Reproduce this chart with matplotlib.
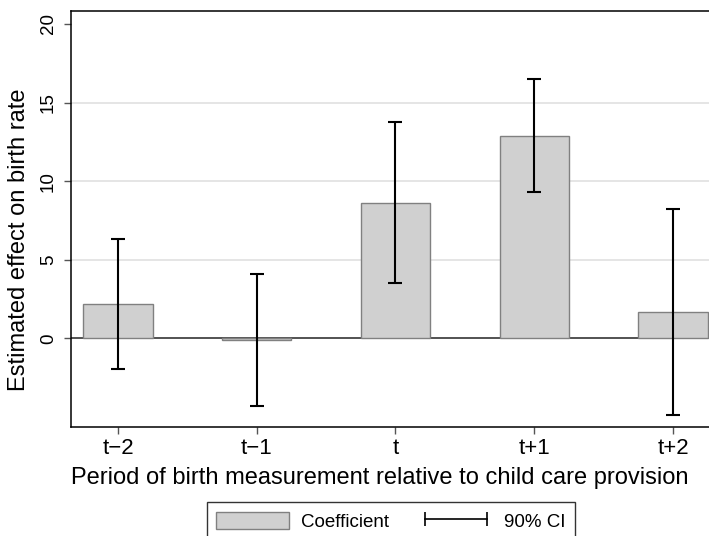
import numpy as np
import matplotlib
matplotlib.use("Agg")
import matplotlib.pyplot as plt
from matplotlib.patches import Patch
from matplotlib.lines import Line2D

plt.rcParams['font.family'] = ['Liberation Sans', 'DejaVu Sans']

# data
periods = ['t\u22122', 't\u22121', 't', 't+1', 't+2']
coef = [2.2, -0.1, 8.6, 12.9, 1.65]
ci_low = [-1.97, -4.3, 3.5, 9.3, -4.88]
ci_high = [6.3, 4.1, 13.75, 16.5, 8.2]
yticks = [0, 5, 10, 15, 20]

fig = plt.figure(figsize=(7.09, 5.36), dpi=100)
ax = fig.add_axes([71 / 709, 1 - 426.7 / 536, (720 - 71) / 709, (426.7 - 11) / 536])

x = np.arange(len(periods))
coef = np.array(coef)
yerr = np.vstack([coef - np.array(ci_low), np.array(ci_high) - coef])

for yv in [5, 10, 15]:
    ax.axhline(yv, color='#e0e0e0', lw=1.2, zorder=0)
ax.axhline(0, color='#444444', lw=1.3, zorder=1)

ax.bar(x, coef, width=0.5, color='#d0d0d0', edgecolor='#808080', lw=1.0, zorder=2)
ax.errorbar(x, coef, yerr=yerr, fmt='none', ecolor='black', elinewidth=1.5,
            capsize=5, capthick=1.5, zorder=3)

ax.set_xlim(-0.339, 4.339)
ax.set_ylim(-5.62, 20.82)
ax.set_xticks(x)
ax.set_xticklabels(periods, fontsize=16)
ax.set_yticks(yticks)
ax.set_yticklabels([str(v) for v in yticks], fontsize=13.5, rotation=90, va='center')
ax.tick_params(axis='both', length=5, width=1, color='#555555', direction='out')
ax.tick_params(axis='y', pad=5)
ax.tick_params(axis='x', pad=3)
for s in ax.spines.values():
    s.set_color('black')
    s.set_linewidth(1.1)
ax.spines['right'].set_visible(False)

ax.set_xlabel('Period of birth measurement relative to child care provision', fontsize=17)
ax.set_ylabel('Estimated effect on birth rate', fontsize=17)
ax.xaxis.set_label_coords((380 - 71) / (720 - 71), -(478 - 426.7) / 415.7)
ax.xaxis.label.set_va('center')
ax.yaxis.set_label_coords(-(71 - 19) / 649, (426.7 - 240) / 415.7)
ax.yaxis.label.set_va('center')

handles = [Patch(facecolor='#d0d0d0', edgecolor='#808080', lw=1.0),
           Line2D([], [], color='black', lw=1.2, marker='|', markersize=10, markeredgewidth=1.2)]
fig.legend(handles, ['Coefficient', '90% CI'], loc='upper left',
           bbox_to_anchor=(206.7 / 709, 1 - 502.3 / 536), ncol=2, fontsize=13.5, numpoints=2,
           fancybox=False, framealpha=1, edgecolor='#333333', handlelength=3.9,
           handleheight=1.07, handletextpad=0.64, columnspacing=1.6, borderpad=0.5,
           borderaxespad=0)

fig.savefig('out.png', dpi=100)
